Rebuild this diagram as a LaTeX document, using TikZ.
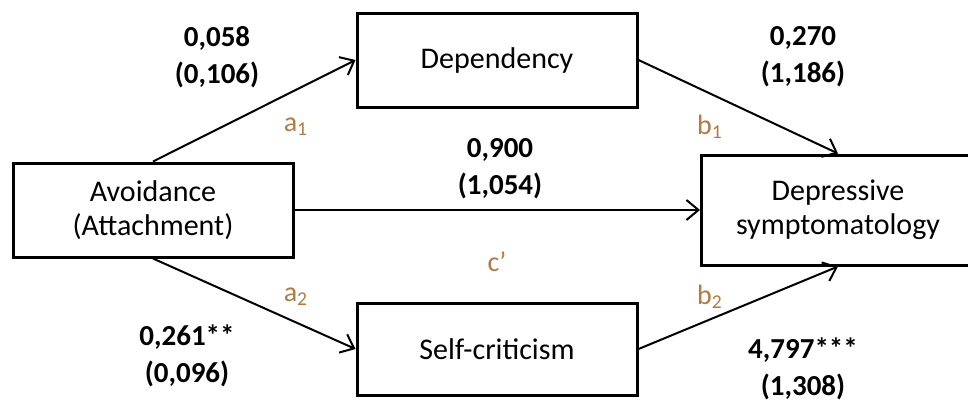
\documentclass[tikz,border=0pt]{standalone}
\usepackage{fontspec}
\setmainfont{Carlito}
\usetikzlibrary{arrows.meta,positioning}
\definecolor{pathbrown}{RGB}{178,122,66}
\tikzset{
  varbox/.style={draw, line width=1.5pt, inner sep=0pt, align=center,
    minimum width=140pt, minimum height=47pt, font=\fontsize{15}{17}\selectfont},
  effect/.style={line width=1pt, -{Straight Barb[length=6pt,width=10pt,line width=1pt]}},
  coef/.style={align=center, inner sep=0pt, font=\bfseries\fontsize{14.5}{18.5}\selectfont},
  pathname/.style={inner sep=0pt, text=pathbrown, font=\fontsize{14}{16}\selectfont}
}
\begin{document}
\begin{tikzpicture}[x=0.5pt,y=-0.5pt]
%
\useasboundingbox (0,0) rectangle (968,403);
%
\node[varbox] (avoid) at (153,210) {Avoidance\\(Attachment)};
\node[varbox] (depend) at (497,60) {Dependency};
\node[varbox, minimum height=46pt] (selfcrit) at (497,349) {Self-criticism};
\node[varbox, minimum width=136.5pt, minimum height=55pt] (depress) at (838,210) {Depressive\\symptomatology};
%
\draw[effect] (avoid.north) -- (depend.west);
\draw[effect] (avoid.south) -- (selfcrit.west);
\draw[effect] (depend.east) -- (depress.north);
\draw[effect] (selfcrit.east) -- (depress.south);
\draw[effect] (avoid.east) -- (depress.west);
%
\node[coef] (ca1) at (217,57) {0,058\\(0,106)};
\node[coef] (cb1) at (803,57) {0,270\\(1,186)};
\node[coef] (cc) at (500,169) {0,900\\(1,054)};
\node[coef] (ca2) at (187,356) {0,261**\\(0,096)};
\node[coef] (cb2) at (803,369) {4,797***\\(1,308)};
%
\node[pathname] (la1) at (296,127) {a\textsubscript{1}};
\node[pathname] (lb1) at (710,127) {b\textsubscript{1}};
\node[pathname] (lc) at (497,262) {c’};
\node[pathname] (la2) at (296,297) {a\textsubscript{2}};
\node[pathname] (lb2) at (710,297) {b\textsubscript{2}};
%
\end{tikzpicture}
\end{document}
